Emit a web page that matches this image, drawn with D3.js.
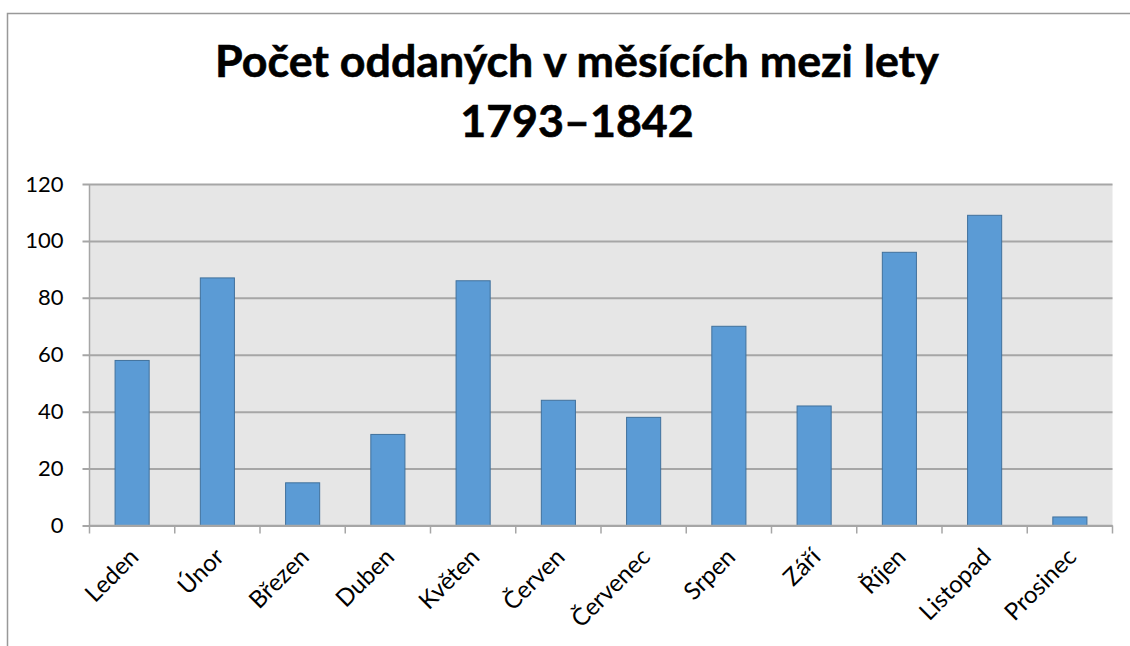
<!DOCTYPE html>
<html>
<head>
<meta charset="utf-8">
<script src="https://cdn.jsdelivr.net/npm/d3@7"></script>
<style>
  body { margin: 0; background: #fff; }
  svg { display: block; }
</style>
</head>
<body>
<script>
let months = ["Leden", "Únor", "Březen", "Duben", "Květen", "Červen",
              "Červenec", "Srpen", "Září", "Říjen", "Listopad", "Prosinec"];
let marriages = [58, 87, 15, 32, 86, 44, 38, 70, 42, 96, 109, 3];
let yTicks = [0, 20, 40, 60, 80, 100, 120];
let titleLines = ["Počet oddaných v měsících mezi lety", "1793–1842"];

let width = 1130, height = 646;
let plot = {left: 89.5, right: 1112.5, top: 184, bottom: 525.5};
let font = "Lato, 'Open Sans', sans-serif";

let svg = d3.select("body").append("svg")
    .attr("width", width)
    .attr("height", height);

// chart frame
svg.append("rect")
    .attr("x", 7.5).attr("y", 13.5)
    .attr("width", 1140).attr("height", 700)
    .style("fill", "#fff")
    .style("stroke", "#999")
    .style("stroke-width", 1.5);

let title = svg.selectAll(".title")
    .data(titleLines)
    .enter()
    .append("text")
        .attr("class", "title")
        .attr("x", 577)
        .attr("y", (d, i) => 77 + i * 60)
        .attr("text-anchor", "middle")
        .style("font-family", font)
        .style("font-weight", 700)
        .style("font-size", "37px")
        .style("stroke", "#000")
        .style("stroke-width", 0.6)
        .text((d) => d);

// fit the first title line to the width it has in the original
let firstLen = title.node().getComputedTextLength();
title.style("font-size", (37 * 724 / firstLen) + "px");

let x = d3.scaleBand()
    .domain(months)
    .range([plot.left, plot.right])
    .paddingInner(0.6)
    .paddingOuter(0.3);

let y = d3.scaleLinear()
    .domain([0, 120])
    .range([plot.bottom, plot.top]);

svg.append("rect")
    .attr("x", plot.left).attr("y", plot.top)
    .attr("width", plot.right - plot.left)
    .attr("height", plot.bottom - plot.top)
    .style("fill", "#e6e6e6");

// gridlines + y axis
let yAxis = svg.append("g")
    .attr("transform", `translate(${plot.left},0)`)
    .call(d3.axisLeft(y).tickValues(yTicks).tickSize(-(plot.right - plot.left)).tickPadding(26));
yAxis.select(".domain").remove();
yAxis.selectAll(".tick line")
    .attr("x1", -7)
    .style("stroke", "#a6a6a6")
    .style("stroke-width", 2);
yAxis.selectAll(".tick text")
    .style("font-family", font)
    .style("font-size", "22px")
    .style("fill", "#000");

svg.append("line")
    .attr("x1", plot.left).attr("x2", plot.left)
    .attr("y1", plot.top).attr("y2", plot.bottom)
    .style("stroke", "#a6a6a6")
    .style("stroke-width", 1.5);

svg.selectAll(".bar")
    .data(marriages)
    .enter()
    .append("rect")
        .attr("class", "bar")
        .attr("x", (d, i) => x(months[i]))
        .attr("y", (d) => y(d))
        .attr("width", x.bandwidth())
        .attr("height", (d) => y(0) - y(d))
        .style("fill", "#5b9bd5")
        .style("stroke", "#41719c")
        .style("stroke-width", 1);

// x axis with boundary ticks
let step = x.step();
let bounds = d3.range(months.length + 1).map((i) => plot.left + i * step);
svg.append("line")
    .attr("x1", plot.left).attr("x2", plot.right)
    .attr("y1", plot.bottom).attr("y2", plot.bottom)
    .style("stroke", "#a6a6a6")
    .style("stroke-width", 1.5);
svg.selectAll(".xtick")
    .data(bounds)
    .enter()
    .append("line")
        .attr("x1", (d) => d).attr("x2", (d) => d)
        .attr("y1", plot.bottom).attr("y2", plot.bottom + 8)
        .style("stroke", "#a6a6a6")
        .style("stroke-width", 1.5);

svg.selectAll(".xlabel")
    .data(months)
    .enter()
    .append("text")
        .attr("class", "xlabel")
        .attr("transform", (d) => `translate(${x(d) + x.bandwidth() / 2 + 2},${plot.bottom + 27}) rotate(-45)`)
        .attr("text-anchor", "end")
        .attr("dy", "0.35em")
        .style("font-family", font)
        .style("font-size", "24px")
        .text((d) => d);
</script>
</body>
</html>
